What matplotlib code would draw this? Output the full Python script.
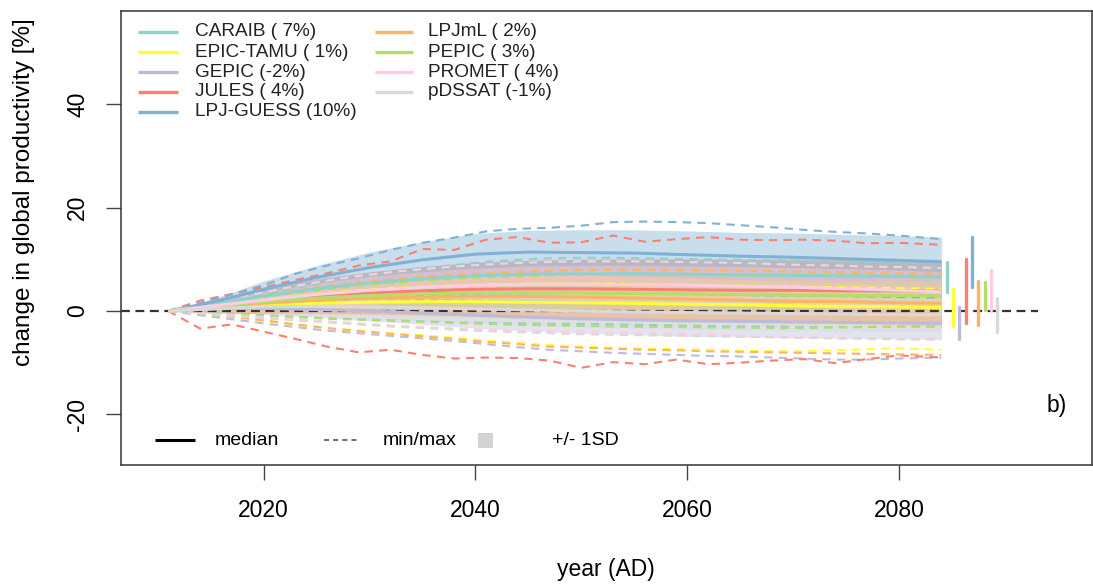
import matplotlib
matplotlib.use("Agg")
import matplotlib.pyplot as plt
from matplotlib.patches import Rectangle

plt.rcParams['font.family'] = ['Liberation Sans', 'DejaVu Sans']
plt.rcParams['axes.unicode_minus'] = False

# ---------------- data ----------------
models = ["CARAIB", "EPIC-TAMU", "GEPIC", "JULES", "LPJ-GUESS",
          "LPJmL", "PEPIC", "PROMET", "pDSSAT"]
legend_pct = ["( 7%)", "( 1%)", "(-2%)", "( 4%)", "(10%)",
              "( 2%)", "( 3%)", "( 4%)", "(-1%)"]
colors = ["#8DD3C7", "#FFFF33", "#BEBADA", "#FB8072", "#80B1D3",
          "#FDB462", "#B3DE69", "#FCCDE5", "#D9D9D9"]

# years for medians and standard deviations
years_med = [2011, 2014, 2017, 2020, 2025, 2030, 2035, 2040, 2045, 2050,
             2055, 2060, 2065, 2070, 2075, 2080, 2084]
# years for min / max envelopes
years_ext = [2011, 2014, 2017, 2020, 2023, 2026, 2029, 2032, 2035, 2038,
             2041, 2044, 2047, 2050, 2053, 2056, 2059, 2062, 2065, 2068,
             2071, 2074, 2077, 2080, 2084]

caraib_med = [0, 0.9, 1.9, 2.9, 4.3, 5.4, 6.2, 6.8, 7.1, 7.2, 7.2, 7.1, 7.0, 6.9, 6.8, 6.7, 6.6]
caraib_sd = [0, 0.4, 0.8, 1.2, 1.7, 2.1, 2.4, 2.6, 2.7, 2.8, 2.8, 2.9, 2.9, 2.9, 2.9, 2.9, 2.9]
caraib_max = [0, 1.1, 2.2, 3.3, 4.5, 5.6, 6.6, 7.5, 8.3, 8.9, 9.5, 9.9, 10.2, 10.3, 10.3,
              10.2, 10.1, 10.0, 9.9, 9.8, 9.7, 9.6, 9.5, 9.4, 9.3]
caraib_min = [0, -0.2, -0.5, -0.8, -1.1, -1.4, -1.6, -1.8, -2.0, -2.2, -2.3, -2.4, -2.5,
              -2.5, -2.6, -2.7, -2.8, -2.9, -3.0, -3.0, -3.1, -3.1, -3.1, -3.0, -3.0]

epic_med = [0, 0.4, 0.8, 1.1, 1.5, 1.7, 1.8, 1.8, 1.7, 1.6, 1.5, 1.3, 1.2, 1.0, 0.9, 0.8, 0.7]
epic_sd = [0, 0.5, 1.0, 1.4, 2.0, 2.5, 2.8, 3.1, 3.3, 3.4, 3.5, 3.5, 3.6, 3.6, 3.6, 3.6, 3.6]
epic_max = [0, 0.8, 1.6, 2.3, 2.9, 3.5, 4.0, 4.4, 4.7, 4.9, 5.1, 5.2, 5.3, 5.3, 5.3,
            5.2, 5.1, 5.0, 4.9, 4.8, 4.7, 4.6, 4.5, 4.4, 4.3]
epic_min = [0, -0.6, -1.2, -1.9, -2.6, -3.3, -3.8, -4.3, -4.7, -5.2, -5.7, -6.2, -6.6,
            -6.9, -7.1, -7.3, -7.4, -7.5, -7.7, -7.8, -7.8, -7.6, -7.4, -7.2, -7.5]

gepic_med = [0, 0.3, 0.5, 0.5, 0.3, 0.0, -0.4, -0.8, -1.2, -1.5, -1.7, -1.9, -2.0, -2.1, -2.2, -2.3, -2.4]
gepic_sd = [0, 0.4, 0.8, 1.1, 1.5, 1.9, 2.2, 2.5, 2.7, 2.8, 2.9, 3.0, 3.0, 3.1, 3.1, 3.1, 3.1]
gepic_max = [0, 0.9, 1.5, 1.9, 2.2, 2.3, 2.3, 2.3, 2.2, 2.1, 2.0, 1.9, 1.8, 1.7, 1.6,
             1.5, 1.4, 1.3, 1.2, 1.1, 1.0, 1.0, 0.9, 0.9, 0.8]
gepic_min = [0, -0.8, -1.6, -2.4, -3.1, -3.8, -4.3, -4.8, -5.3, -5.8, -6.4, -7.0, -7.5,
             -7.8, -8.1, -8.3, -8.5, -8.7, -8.8, -9.0, -9.2, -9.4, -9.4, -9.2, -9.0]

jules_med = [0, 0.6, 1.3, 2.0, 2.9, 3.5, 3.9, 4.2, 4.3, 4.3, 4.2, 4.1, 4.0, 4.0, 3.9, 3.9, 3.8]
jules_sd = [0, 1.0, 1.8, 2.5, 3.4, 4.1, 4.7, 5.2, 5.5, 5.7, 5.9, 6.0, 6.0, 6.1, 6.1, 6.2, 6.2]
jules_max = [0, 2.0, 3.3, 4.6, 6.0, 7.3, 8.8, 9.6, 12.0, 11.8, 13.8, 14.3, 13.2, 13.3, 14.6,
             13.4, 13.9, 14.3, 13.8, 13.7, 13.8, 13.6, 13.1, 13.2, 12.8]
jules_min = [0, -3.4, -2.6, -4.0, -5.4, -6.9, -8.0, -7.5, -8.5, -9.2, -9.0, -9.1, -9.6,
             -11.0, -9.9, -10.3, -9.4, -10.3, -10.0, -9.6, -9.3, -10.1, -9.3, -8.6, -9.0]

guess_med = [0, 1.2, 2.6, 4.2, 6.5, 8.4, 9.9, 11.0, 11.4, 11.3, 11.2, 10.9, 10.6, 10.4, 10.1, 9.8, 9.5]
guess_sd = [0, 0.5, 1.0, 1.6, 2.3, 3.0, 3.5, 4.0, 4.2, 4.4, 4.5, 4.6, 4.6, 4.7, 4.7, 4.8, 4.8]
guess_max = [0, 1.6, 3.2, 5.0, 7.2, 8.8, 10.2, 11.8, 13.2, 14.2, 15.4, 15.9, 16.1, 16.5, 17.2,
             17.3, 17.2, 17.0, 16.6, 16.2, 15.7, 15.3, 15.0, 14.6, 13.9]
guess_min = [0, 0.2, 0.6, 1.0, 1.6, 2.0, 2.4, 2.8, 3.0, 3.2, 3.4, 3.4, 3.5, 3.5, 3.4,
             3.3, 3.3, 3.2, 3.1, 3.0, 3.0, 2.9, 2.8, 2.7, 2.6]

lpjml_med = [0, 0.5, 1.0, 1.5, 2.1, 2.5, 2.7, 2.8, 2.8, 2.7, 2.5, 2.3, 2.1, 1.9, 1.8, 1.6, 1.5]
lpjml_sd = [0, 0.7, 1.3, 1.8, 2.5, 3.0, 3.4, 3.7, 3.9, 4.0, 4.1, 4.1, 4.2, 4.2, 4.2, 4.2, 4.2]
lpjml_max = [0, 1.0, 2.0, 3.0, 3.9, 4.8, 5.5, 6.1, 6.6, 7.0, 7.3, 7.6, 7.8, 7.9, 8.0,
             8.0, 7.9, 7.9, 7.8, 7.7, 7.6, 7.5, 7.4, 7.3, 7.2]
lpjml_min = [0, -0.5, -1.1, -1.8, -2.6, -3.3, -3.9, -4.4, -4.9, -5.4, -6.0, -6.4, -6.9,
             -7.1, -7.3, -7.5, -7.6, -7.8, -7.9, -8.0, -8.1, -8.2, -8.3, -8.4, -8.5]

pepic_med = [0, 0.6, 1.2, 1.8, 2.5, 3.0, 3.3, 3.5, 3.5, 3.5, 3.4, 3.3, 3.2, 3.1, 3.0, 3.0, 2.95]
pepic_sd = [0, 0.4, 0.8, 1.2, 1.7, 2.0, 2.3, 2.5, 2.6, 2.7, 2.7, 2.7, 2.8, 2.8, 2.8, 2.8, 2.8]
pepic_max = [0, 0.9, 1.8, 2.7, 3.5, 4.2, 4.9, 5.4, 5.9, 6.2, 6.5, 6.7, 6.9, 7.0, 7.0,
             7.0, 6.9, 6.9, 6.8, 6.8, 6.7, 6.6, 6.6, 6.5, 6.5]
pepic_min = [0, -0.3, -0.6, -0.9, -1.2, -1.5, -1.7, -1.9, -2.1, -2.3, -2.5, -2.7, -2.8,
             -2.9, -3.0, -3.1, -3.1, -3.2, -3.2, -3.3, -3.3, -3.2, -3.1, -3.0, -3.0]

promet_med = [0, 0.7, 1.4, 2.1, 3.2, 4.0, 4.6, 5.0, 5.2, 5.2, 5.1, 5.0, 4.8, 4.6, 4.3, 4.0, 3.7]
promet_sd = [0, 0.6, 1.1, 1.6, 2.2, 2.7, 3.0, 3.3, 3.5, 3.6, 3.7, 3.7, 3.8, 3.8, 3.9, 3.9, 3.9]
promet_max = [0, 1.2, 2.4, 3.6, 4.8, 5.9, 6.8, 7.5, 8.1, 8.6, 9.0, 9.3, 9.5, 9.6, 9.6,
              9.6, 9.5, 9.4, 9.3, 9.1, 8.9, 8.8, 8.6, 8.5, 8.3]
promet_min = [0, -0.4, -0.8, -1.2, -1.6, -2.0, -2.4, -2.8, -3.1, -3.4, -3.6, -3.8, -3.9,
              -4.0, -4.1, -4.2, -4.4, -4.6, -4.8, -5.0, -5.1, -5.3, -5.4, -5.5, -5.6]

pdssat_med = [0, 0.3, 0.6, 0.8, 0.9, 0.8, 0.6, 0.4, 0.2, 0.0, -0.2, -0.3, -0.4, -0.5, -0.6, -0.7, -0.7]
pdssat_sd = [0, 0.5, 0.9, 1.3, 1.8, 2.2, 2.5, 2.8, 2.9, 3.0, 3.1, 3.2, 3.2, 3.3, 3.3, 3.3, 3.3]
pdssat_max = [0, 0.8, 1.6, 2.3, 2.9, 3.4, 3.8, 4.1, 4.3, 4.4, 4.5, 4.5, 4.5, 4.5, 4.4,
              4.4, 4.3, 4.2, 4.1, 4.0, 3.9, 3.8, 3.7, 3.6, 3.5]
pdssat_min = [0, -0.5, -1.0, -1.4, -1.8, -2.2, -2.6, -3.0, -3.3, -3.6, -3.9, -4.1, -4.3,
              -4.5, -4.6, -4.7, -4.8, -4.9, -5.0, -5.1, -5.2, -5.3, -5.3, -5.4, -5.4]

# end-of-period mean and SD shown as vertical bars at the right
end_mean = [6.6, 0.7, -2.4, 3.8, 9.5, 1.55, 2.95, 4.05, -0.7]
end_sd = [2.9, 3.6, 3.1, 6.2, 4.8, 4.25, 2.75, 3.85, 3.3]

medians = [caraib_med, epic_med, gepic_med, jules_med, guess_med,
           lpjml_med, pepic_med, promet_med, pdssat_med]
sds = [caraib_sd, epic_sd, gepic_sd, jules_sd, guess_sd,
       lpjml_sd, pepic_sd, promet_sd, pdssat_sd]
maxs = [caraib_max, epic_max, gepic_max, jules_max, guess_max,
        lpjml_max, pepic_max, promet_max, pdssat_max]
mins = [caraib_min, epic_min, gepic_min, jules_min, guess_min,
        lpjml_min, pepic_min, promet_min, pdssat_min]

# ---------------- figure ----------------
fig = plt.figure(figsize=(10.93, 5.85), dpi=100)
ax = fig.add_axes([0.1104, 0.2051, 0.8884, 0.7766])

# SD bands
for med, sd, c in zip(medians, sds, colors):
    lo = [m - s for m, s in zip(med, sd)]
    hi = [m + s for m, s in zip(med, sd)]
    ax.fill_between(years_med, lo, hi, color=c, alpha=0.42, linewidth=0, zorder=1)

# min / max dashed
for mn, mx, c in zip(mins, maxs, colors):
    ax.plot(years_ext, mx, color=c, lw=1.5, dashes=(4, 3), zorder=2)
    ax.plot(years_ext, mn, color=c, lw=1.5, dashes=(4, 3), zorder=2)

# zero line
ax.plot([2006.5, 2093.1], [0, 0], color="#333333", lw=1.6, dashes=(4, 2.5), zorder=3)

# medians
for med, c in zip(medians, colors):
    ax.plot(years_med, med, color=c, lw=2.2, solid_capstyle='butt', zorder=4)

# end bars
for i, (m, s, c) in enumerate(zip(end_mean, end_sd, colors)):
    xb = 2084.5 + 0.6 * i
    ax.plot([xb, xb], [m - s, m + s], color=c, lw=2.4, solid_capstyle='round', zorder=5)

ax.set_xlim(2006.5, 2098.2)
ax.set_ylim(-29.8, 58.1)
ax.set_xticks([2020, 2040, 2060, 2080])
ax.set_yticks([-20, 0, 20, 40])
ax.tick_params(axis='both', length=10.8, width=1.0, color="#444444",
               labelsize=16.5, pad=14)
ax.tick_params(axis='y', labelrotation=90, pad=12)
for lab in ax.get_yticklabels():
    lab.set_va('center')
for sp in ax.spines.values():
    sp.set_linewidth(1.1)
    sp.set_color("#333333")

ax.set_xlabel("year (AD)", fontsize=16.5)
ax.xaxis.set_label_coords(0.5, -0.205)
ax.set_ylabel("change in global productivity [%]", fontsize=17.5)
ax.yaxis.set_label_coords(-0.0883, 0.60)

ax.text(2094.9, -18.2, "b)", fontsize=16.5, ha='center', va='center')

# top legend (manual)
def fx(px):
    return (px - 120.7) / 971.0

def fy(py):
    return (465.0 - py) / 454.3

rows = [31.7, 52.2, 72.2, 91.9, 111.7]
for i, (name, pct, c) in enumerate(zip(models, legend_pct, colors)):
    col = 0 if i < 5 else 1
    r = i if i < 5 else i - 5
    x0, x1, xt = (138, 178, 195) if col == 0 else (375, 413, 428)
    y = fy(rows[r])
    ax.plot([fx(x0), fx(x1)], [y, y], transform=ax.transAxes, color=c, lw=2.4,
            solid_capstyle='butt', clip_on=False, zorder=6)
    ax.text(fx(xt), y, f"{name} {pct}", transform=ax.transAxes, fontsize=13.7,
            ha='left', va='center', color="#222222")

# bottom legend (manual)
yb = fy(440)
ax.plot([fx(155), fx(195)], [yb, yb], transform=ax.transAxes, color="black", lw=2.2,
        solid_capstyle='butt')
ax.text(fx(215), yb, "median", transform=ax.transAxes, fontsize=14, ha='left', va='center')
ax.plot([fx(324), fx(360)], [yb, yb], transform=ax.transAxes, color="#555555", lw=1.2,
        dashes=(3, 2.5))
ax.text(fx(383), yb, "min/max", transform=ax.transAxes, fontsize=14, ha='left', va='center')
ax.add_patch(Rectangle((fx(478), fy(447.5)), 15 / 971.0, 15 / 454.3,
                       transform=ax.transAxes, facecolor="#D3D3D3", edgecolor='none'))
ax.text(fx(552), yb, "+/- 1SD", transform=ax.transAxes, fontsize=14, ha='left', va='center')

fig.savefig("out.png", dpi=100)
